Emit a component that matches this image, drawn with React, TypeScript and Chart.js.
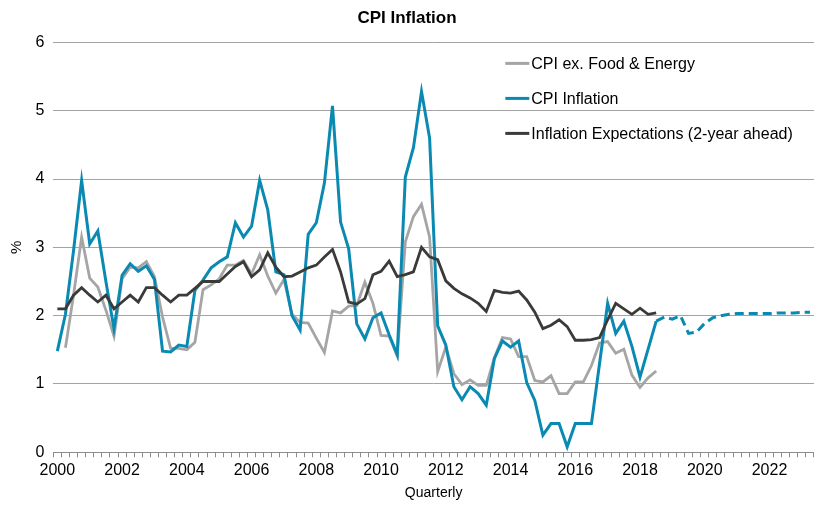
import React, { useEffect, useRef } from "react";
import { Chart, registerables } from "chart.js";

Chart.register(...registerables);

const years = [2000, 2001, 2002, 2003, 2004, 2005, 2006, 2007, 2008, 2009, 2010, 2011, 2012, 2013, 2014, 2015, 2016, 2017, 2018, 2019, 2020, 2021, 2022, 2023];
const quarterNames = ["Q1", "Q2", "Q3", "Q4"];
const categories: string[] = [];
years.forEach((y) => quarterNames.forEach((q) => categories.push(`${y}${q}`)));
categories.splice(94); // 2000Q1 .. 2023Q2

const tickLabels = ["2000", "2002", "2004", "2006", "2008", "2010", "2012", "2014", "2016", "2018", "2020", "2022"];

const cpiExFoodEnergy = [
  null, 1.53, 2.30, 3.15, 2.55, 2.42, 2.08, 1.70, 2.54, 2.71,
  2.70, 2.79, 2.57, 1.98, 1.52, 1.52, 1.50, 1.61, 2.38, 2.45,
  2.54, 2.74, 2.74, 2.81, 2.61, 2.89, 2.58, 2.33, 2.53, 2.02,
  1.90, 1.89, 1.67, 1.46, 2.07, 2.04, 2.14, 2.15, 2.49, 2.18,
  1.71, 1.70, 1.41, 3.08, 3.45, 3.63, 3.15, 1.18, 1.54, 1.15,
  0.99, 1.06, 0.98, 0.98, 1.38, 1.68, 1.66, 1.40, 1.40, 1.05,
  1.03, 1.12, 0.86, 0.86, 1.03, 1.03, 1.27, 1.60, 1.62, 1.45,
  1.51, 1.13, 0.95, 1.09, 1.19,
];

const cpiInflation = [
  1.48, 2.02, 2.95, 3.98, 3.05, 3.24, 2.50, 1.81, 2.59, 2.76,
  2.65, 2.73, 2.53, 1.48, 1.47, 1.57, 1.55, 2.37, 2.52, 2.70,
  2.79, 2.86, 3.36, 3.15, 3.31, 3.98, 3.55, 2.64, 2.60, 2.00,
  1.79, 3.19, 3.36, 3.94, 5.07, 3.37, 2.98, 1.88, 1.66, 1.97,
  2.04, 1.72, 1.43, 4.03, 4.46, 5.28, 4.60, 1.85, 1.57, 0.96,
  0.77, 0.96, 0.86, 0.69, 1.37, 1.63, 1.54, 1.63, 1.02, 0.76,
  0.25, 0.42, 0.42, 0.08, 0.42, 0.42, 0.42, 1.30, 2.18, 1.74,
  1.92, 1.55, 1.10, 1.51, 1.92,
];

const inflationExpectations = [
  2.10, 2.10, 2.30, 2.41, 2.30, 2.20, 2.30, 2.10, 2.20, 2.30,
  2.20, 2.41, 2.41, 2.30, 2.20, 2.30, 2.30, 2.40, 2.50, 2.50,
  2.50, 2.61, 2.72, 2.79, 2.57, 2.67, 2.92, 2.71, 2.57, 2.58,
  2.64, 2.70, 2.74, 2.86, 2.97, 2.64, 2.20, 2.17, 2.25, 2.60,
  2.65, 2.80, 2.57, 2.60, 2.64, 3.00, 2.86, 2.82, 2.51, 2.40,
  2.32, 2.26, 2.18, 2.06, 2.37, 2.34, 2.33, 2.36, 2.23, 2.05,
  1.81, 1.86, 1.94, 1.84, 1.64, 1.64, 1.65, 1.68, 1.94, 2.18,
  2.10, 2.02, 2.11, 2.02, 2.04,
];

const forecastStart = "2018Q3";
const cpiForecast = [
  1.92, 1.98, 1.95, 2.00, 1.74, 1.76, 1.89, 1.97, 2.00, 2.02,
  2.03, 2.03, 2.03, 2.03, 2.03, 2.04, 2.04, 2.04, 2.05, 2.05,
];

const GRAY = "#a5a5a5";
const BLUE = "#0a8ab2";
const DARK = "#3a3a38";
const FONT = "'Liberation Sans', Arial, sans-serif";

const legendItems = [
  { label: "CPI ex. Food & Energy", color: GRAY },
  { label: "CPI Inflation", color: BLUE },
  { label: "Inflation Expectations (2-year ahead)", color: DARK },
];

const insideLegend = {
  id: "insideLegend",
  afterDraw(chart: any) {
    const { ctx, chartArea } = chart;
    const x0 = chartArea.left + 452;
    const y0 = chartArea.top + 21;
    ctx.save();
    ctx.font = `16px ${FONT}`;
    ctx.textBaseline = "middle";
    ctx.textAlign = "left";
    legendItems.forEach((it, i) => {
      const y = y0 + i * 35;
      ctx.strokeStyle = it.color;
      ctx.lineWidth = 3;
      ctx.beginPath();
      ctx.moveTo(x0, y);
      ctx.lineTo(x0 + 24, y);
      ctx.stroke();
      ctx.fillStyle = "#000";
      ctx.fillText(it.label, x0 + 26, y + 1);
    });
    ctx.restore();
  },
};

export default function App() {
  const ref = useRef<HTMLCanvasElement | null>(null);

  useEffect(() => {
    document.body.style.margin = "0";
    const startIdx = categories.indexOf(forecastStart);
    const forecastData = cpiForecast.map((v, i) => ({ x: categories[startIdx + i], y: v }));

    const chart = new Chart(ref.current as HTMLCanvasElement, {
      type: "line",
      data: {
        labels: categories,
        datasets: [
          {
            label: "CPI ex. Food & Energy",
            data: cpiExFoodEnergy,
            borderColor: GRAY,
            borderWidth: 2.8,
            pointRadius: 0,
            tension: 0,
            order: 4,
          },
          {
            label: "CPI Inflation",
            data: cpiInflation,
            borderColor: BLUE,
            borderWidth: 3,
            pointRadius: 0,
            tension: 0,
            order: 3,
          },
          {
            label: "CPI Inflation forecast",
            data: forecastData as any,
            borderColor: BLUE,
            borderWidth: 3,
            borderDash: [9, 5],
            pointRadius: 0,
            tension: 0,
            order: 2,
          },
          {
            label: "Inflation Expectations (2-year ahead)",
            data: inflationExpectations,
            borderColor: DARK,
            borderWidth: 2.8,
            pointRadius: 0,
            tension: 0,
            order: 1,
          },
        ],
      },
      options: {
        responsive: false,
        animation: false,
        events: [],
        layout: { padding: 0 },
        plugins: {
          legend: { display: false },
          tooltip: { enabled: false },
          title: {
            display: true,
            text: "CPI Inflation",
            color: "#000",
            font: { family: FONT, size: 17, weight: "bold" },
            padding: { top: 8, bottom: 14 },
          },
        },
        scales: {
          x: {
            type: "category",
            offset: true,
            afterFit: (s: any) => {
              s.height = 53.7;
            },
            grid: {
              display: true,
              offset: true,
              drawOnChartArea: false,
              drawTicks: true,
              tickLength: 5,
              color: "#8c8c8c",
            },
            border: { display: true, color: "#8c8c8c", width: 1 },
            ticks: {
              autoSkip: false,
              maxRotation: 0,
              minRotation: 0,
              padding: 4,
              color: "#000",
              font: { family: FONT, size: 16 },
              callback: (_v: any, index: number) => (index % 8 === 0 ? tickLabels[index / 8] ?? "" : ""),
            },
            title: {
              display: true,
              text: "Quarterly",
              color: "#000",
              font: { family: FONT, size: 14 },
              padding: { top: 0, bottom: 4 },
            },
          },
          y: {
            min: 0,
            max: 6,
            afterFit: (s: any) => {
              s.width = 53.3;
            },
            ticks: {
              stepSize: 1,
              padding: 9,
              color: "#000",
              font: { family: FONT, size: 16 },
            },
            grid: {
              color: "#a3a3a3",
              lineWidth: 1,
              drawTicks: false,
            },
            border: { display: false },
            title: {
              display: true,
              text: "%",
              color: "#000",
              font: { family: FONT, size: 15 },
              padding: { top: 8, bottom: 0 },
            },
          },
        },
      },
      plugins: [insideLegend],
    } as any);

    return () => chart.destroy();
  }, []);

  return (
    <div style={{ width: 814, height: 506 }}>
      <canvas ref={ref} width={814} height={506} style={{ display: "block" }} />
    </div>
  );
}
